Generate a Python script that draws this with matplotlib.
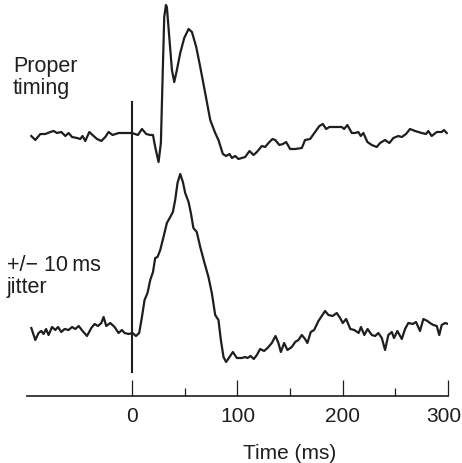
import matplotlib
matplotlib.use("Agg")
import matplotlib.pyplot as plt
from matplotlib.transforms import offset_copy
import numpy as np

# time (ms) and amplitude (arbitrary units)
t_proper = [-95.9, -92.1, -87.3, -82.6, -77.9, -74.7, -71.5, -67.4, -63.6, -60.5,
            -57.2, -52.5, -49.4, -47.2, -44.6, -40.8, -36.7, -33.5, -29.4, -25.6,
            -22.5, -18.7, -13.0, -6.6, -0.3, 5.4, 9.2, 13.3, 17.1, 19.7,
            21.8, 25.0, 27.2, 29.1, 30.4, 32.0, 32.9, 35.4, 37.7, 39.9,
            42.4, 45.6, 49.4, 53.5, 56.7, 60.8, 64.6, 69.3, 74.1, 78.8,
            81.9, 86.1, 89.2, 92.4, 94.7, 97.8, 100.9, 107.3, 111.4, 115.2,
            118.4, 123.1, 126.3, 129.4, 133.2, 135.8, 139.8, 143.1, 146.2, 150.0,
            154.8, 161.1, 164.2, 169.0, 173.7, 177.8, 181.1, 184.2, 187.3, 194.3,
            199.1, 201.3, 204.4, 208.6, 211.7, 214.8, 217.1, 219.6, 223.4, 227.6,
            232.3, 235.5, 240.2, 244.3, 248.1, 252.8, 256.1, 260.1, 263.9, 268.7,
            275.0, 279.1, 281.3, 284.5, 289.3, 294.0, 296.2, 298.8]
v_proper = [-0.3, -0.7, -0.1, -0.1, 0.1, 0.2, 0.0, 0.1, -0.3, 0.0,
            -0.4, -0.5, -0.6, -0.3, -0.8, 0.1, -0.3, -0.6, -0.8, -0.4,
            0.1, -0.2, 0.0, 0.0, 0.0, -0.2, 0.4, -0.1, -0.2, -0.2,
            -1.4, -2.9, -1.0, 6.6, 11.6, 12.8, 12.6, 9.3, 6.3, 5.1,
            6.3, 8.0, 9.5, 10.4, 10.1, 8.6, 6.6, 4.0, 1.3, 0.0,
            -0.7, -2.1, -2.3, -2.1, -2.5, -2.3, -2.6, -2.4, -1.8, -2.2,
            -1.9, -1.3, -1.4, -1.0, -0.6, -0.7, -1.2, -1.1, -0.9, -1.6,
            -1.6, -1.5, -0.7, -0.6, 0.1, 0.7, 0.9, 0.4, 0.6, 0.6,
            0.6, 0.4, 0.8, 0.0, 0.0, 0.1, -0.3, 0.0, -0.9, -1.2,
            -1.4, -1.0, -0.7, -1.0, -0.5, -0.3, -0.4, -0.1, 0.4, 0.2,
            0.0, -0.1, 0.2, -0.3, 0.1, 0.1, 0.3, 0.0]

t_jitter = [-95.9, -92.1, -89.0, -86.4, -84.2, -81.9, -79.5, -76.2, -73.1, -70.5,
            -67.4, -64.3, -60.5, -57.2, -54.1, -50.9, -47.2, -43.0, -38.9, -35.8,
            -32.6, -29.4, -27.2, -24.7, -20.9, -16.8, -13.0, -9.8, -7.3, -3.5,
            0.3, 3.5, 6.6, 9.2, 11.7, 14.5, 17.1, 19.7, 21.8, 24.0,
            26.6, 29.7, 32.9, 36.1, 38.6, 40.8, 43.0, 45.6, 48.1, 50.3,
            53.5, 55.7, 58.1, 61.3, 64.6, 68.4, 72.4, 75.6, 78.8, 81.9,
            84.2, 86.7, 89.2, 92.4, 95.6, 99.4, 104.1, 107.3, 109.5, 112.4,
            115.5, 118.4, 121.5, 125.3, 128.5, 132.6, 136.1, 138.9, 141.2, 144.3,
            147.4, 151.6, 154.8, 157.9, 161.1, 164.2, 166.4, 169.6, 172.8, 176.9,
            180.1, 183.2, 186.4, 190.5, 194.3, 197.5, 200.0, 203.2, 207.2, 211.0,
            215.1, 217.3, 220.5, 223.6, 227.6, 230.8, 233.8, 237.1, 240.2, 243.3,
            246.6, 248.7, 251.9, 256.1, 259.2, 262.3, 266.5, 269.6, 273.4, 276.6,
            280.4, 282.9, 286.1, 289.3, 291.7, 294.0, 297.2, 300.3]
v_jitter = [0.2, -1.0, -0.3, -0.1, -0.4, 0.1, -0.5, 0.3, 0.0, 0.3,
            -0.2, 0.1, 0.0, 0.3, 0.1, 0.4, -0.1, -0.6, 0.2, 0.6,
            0.4, 0.7, 1.3, 0.4, 0.7, 0.3, -0.3, 0.0, -0.3, -0.4,
            -0.3, -0.6, -0.3, 1.3, 3.0, 3.7, 5.0, 5.8, 7.2, 7.3,
            8.0, 9.3, 10.7, 11.3, 11.8, 13.0, 14.7, 15.6, 14.8, 13.7,
            12.8, 11.7, 10.2, 9.8, 8.3, 6.8, 5.3, 3.7, 1.5, 1.0,
            -1.0, -2.7, -3.2, -2.7, -2.2, -2.8, -2.8, -2.7, -2.8, -2.6,
            -2.9, -2.5, -1.9, -2.1, -1.8, -1.3, -0.6, -1.3, -2.2, -1.3,
            -2.0, -1.7, -1.2, -1.0, -0.5, -0.9, -1.3, -0.2, 0.0, 0.9,
            1.4, 1.9, 1.5, 1.4, 1.7, 1.2, 0.7, 1.1, 0.1, 0.0,
            -0.3, 0.3, -0.5, 0.1, -0.5, -0.6, -0.3, -0.8, -2.0, -0.5,
            -0.2, -0.8, -0.1, -0.9, 0.1, 0.7, 0.6, 0.8, -0.1, 1.1,
            0.9, 0.7, 0.5, 0.4, -0.5, 0.5, 0.7, 0.6]

major_ticks = [0, 100, 200, 300]
minor_ticks = [50, 150, 250]

ink = "#1e1e1e"
font = ["Liberation Sans", "DejaVu Sans"]
plt.rcParams["font.family"] = font

fig = plt.figure(figsize=(4.62, 4.63), dpi=100)
ax = fig.add_axes([27 / 462, 67 / 463, 421 / 462, 396 / 463])

# stack the two traces: proper timing on top, jittered below
off_proper = 26.3
off_jitter = 6.6
ax.plot(t_proper, np.array(v_proper) + off_proper, color=ink, lw=1.6,
        solid_joinstyle="round")
ax.plot(t_jitter, np.array(v_jitter) + off_jitter, color=ink, lw=1.6,
        solid_joinstyle="round")

# stimulus onset marker
ax.plot([0, 0], [2.4, 29.4], color=ink, lw=1.5)

ax.set_xlim(-100, 300)
ax.set_ylim(0, 39.6)

for s in ["top", "right", "left"]:
    ax.spines[s].set_visible(False)
ax.spines["bottom"].set_linewidth(1.2)
ax.spines["bottom"].set_color(ink)
ax.set_yticks([])

ax.set_xticks(major_ticks)
ax.set_xticks(minor_ticks, minor=True)
ax.tick_params(axis="x", which="major", direction="in", length=11.5, width=0.9,
               color=ink, labelsize=15, labelcolor=ink, pad=8)
ax.tick_params(axis="x", which="minor", direction="in", length=5.8, width=0.9,
               color=ink)

# nudge the last label left so it stays inside the canvas
last = ax.get_xticklabels()[-1]
last.set_transform(offset_copy(last.get_transform(), fig=fig, x=-4.5, y=0,
                               units="dots"))

ax.set_xlabel("Time (ms)", fontsize=15, color=ink)
ax.xaxis.set_label_coords(0.625, -0.12)

fig.text(13 / 462, 1 - 56 / 463, "Proper\ntiming", fontsize=15.5, color=ink,
         va="top", ha="left", linespacing=1.05)
fig.text(7 / 462, 1 - 255 / 463, "+/\u2212 10\u2009ms\njitter", fontsize=15.5,
         color=ink, va="top", ha="left", linespacing=1.05)

fig.savefig("out.png", dpi=100)
